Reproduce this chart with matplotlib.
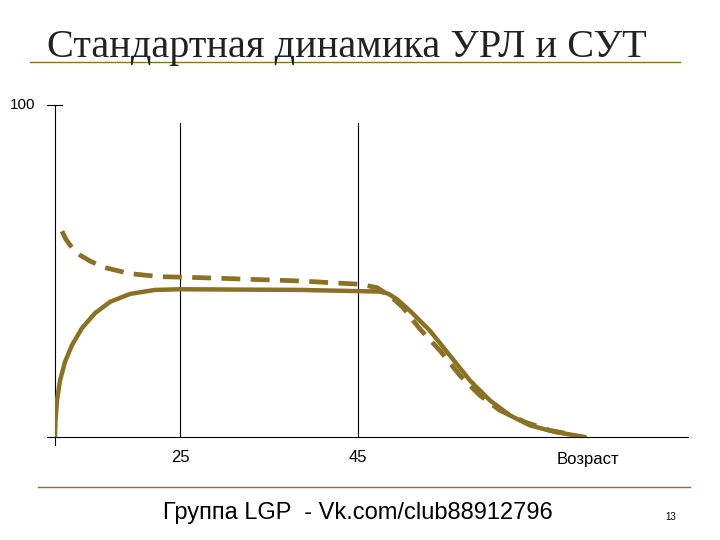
import matplotlib
matplotlib.use('Agg')
import matplotlib.pyplot as plt

OLIVE = '#8a7124'

# readings from the picture (x: horizontal position, y: level 0..100)
solid_x = [0, 0.5, 2, 5, 10, 17, 27, 40, 55, 75, 100, 125, 245, 325, 333, 342, 355, 375, 395, 415, 435, 455, 475, 500, 530]
solid_y = [0, 5, 11, 17, 22.6, 27.7, 32.8, 37.3, 40.7, 43.1, 44.3, 44.5, 44.3, 43.8, 43.2, 41.5, 38, 32, 24.5, 17, 11, 6.5, 3.5, 1.5, 0]
dash_x = [7, 11, 17, 25, 35, 50, 75, 105, 145, 245, 305, 322, 335, 348, 365, 385, 405, 425, 445, 470, 495, 520]
dash_y = [62, 59.5, 57, 54.8, 53, 51, 49.2, 48.3, 48, 47, 46, 45, 42.5, 39, 32.5, 26, 18.5, 12.5, 8, 4.5, 2, 0.6]
vline_x = [125, 303]
vline_labels = ['25', '45']

fig = plt.figure(figsize=(7.2, 5.4), dpi=100)
fig.patch.set_facecolor('white')
ax = fig.add_axes([55/720, 1 - 437/540, 633/720, 332/540])
ax.set_xlim(0, 633)
ax.set_ylim(0, 100)
ax.axis('off')

# axes
ax.plot([-8, 633], [0, 0], color='black', lw=0.8, clip_on=False)
ax.plot([0, 0], [-2.4, 100], color='black', lw=0.8, clip_on=False)
ax.plot([-8, 7], [100, 100], color='black', lw=0.8, clip_on=False)
ax.text(-20, 100, '100', ha='right', va='center', fontsize=11, family='Liberation Sans')

for x, lab in zip(vline_x, vline_labels):
    ax.plot([x, x], [0, 94.5], color='black', lw=0.8)
    ax.text(x, -4, lab, ha='center', va='top', fontsize=12, family='Liberation Sans')
ax.text(533, -4.5, 'Возраст', ha='center', va='top', fontsize=12, family='Liberation Sans')

ax.plot(solid_x, solid_y, color=OLIVE, lw=3.2, solid_capstyle='round', solid_joinstyle='round')
ax.plot(dash_x, dash_y, color=OLIVE, lw=3.4, dashes=(4, 2.2))

# slide decoration
fig.text(347/720, 1 - 47/540, 'Стандартная динамика УРЛ и СУТ', ha='center', va='center',
         fontsize=29, family='Liberation Serif', color='#222222')
fig.add_artist(plt.Line2D([30/720, 680/720], [1 - 62/540] * 2, color=OLIVE, lw=1))
fig.add_artist(plt.Line2D([38/720, 690/720], [1 - 487/540] * 2, color=OLIVE, lw=1))
fig.text(358/720, 1 - 513/540, 'Группа LGP  - Vk.com/club88912796', ha='center', va='center',
         fontsize=17, family='Liberation Sans')
fig.text(671/720, 1 - 517/540, '13', ha='center', va='center', fontsize=7, family='Liberation Sans')

fig.savefig('out.png', dpi=100)
